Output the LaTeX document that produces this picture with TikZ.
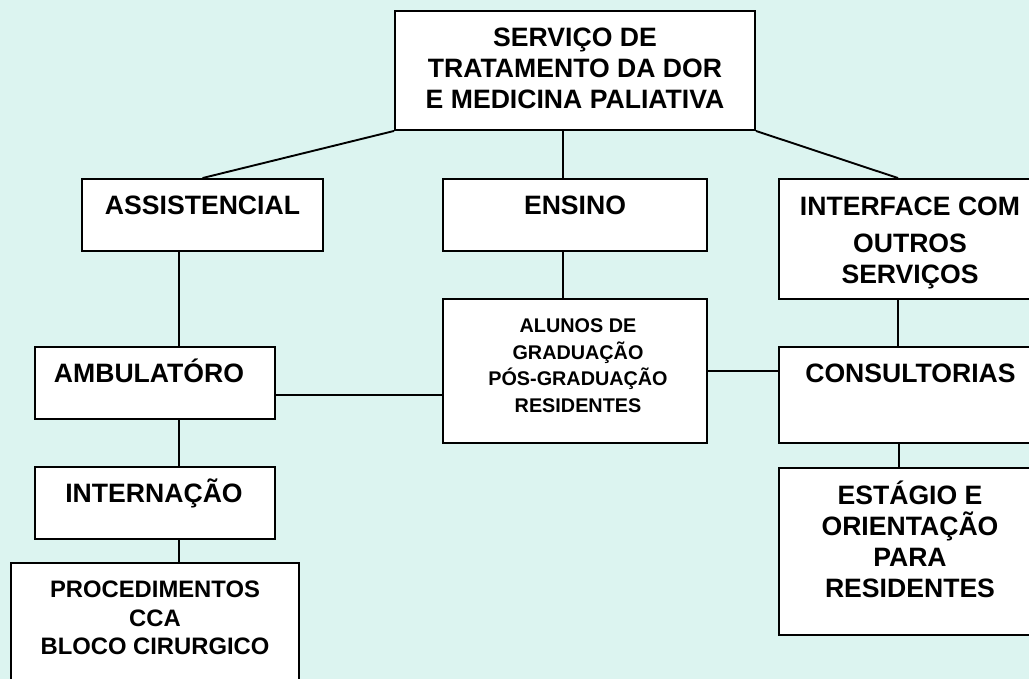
\documentclass[tikz,border=0pt]{standalone}
\usepackage{fontspec}
\setmainfont{Liberation Sans}[BoldFont={Liberation Sans Bold}]
\definecolor{bgc}{RGB}{220,244,240}
\begin{document}
\begin{tikzpicture}[x=1pt,y=-1pt,
  box/.style={draw=black,fill=white,line width=1.9pt,inner sep=0pt,rectangle},
  txt/.style={font=\fontsize{26.6}{31}\selectfont\bfseries,align=center,anchor=base,inner sep=0pt},
  txtsm/.style={font=\fontsize{19.8}{26.5}\selectfont\bfseries,align=center,anchor=base,inner sep=0pt},
  txtmd/.style={font=\fontsize{23.8}{28.5}\selectfont\bfseries,align=center,anchor=base,inner sep=0pt},
  conn/.style={line width=1.9pt}]
\useasboundingbox (0,0) rectangle (1029,679);
\clip (0,0) rectangle (1029,679);
\fill[bgc] (0,0) rectangle (1029,679);
% boxes
\node[box,minimum width=360pt,minimum height=119pt] (top) at (575,70.5) {};
\node[box,minimum width=241pt,minimum height=72pt] (assist) at (202.5,215) {};
\node[box,minimum width=264pt,minimum height=72pt] (ensino) at (575,215) {};
\node[box,minimum width=262pt,minimum height=120pt] (iface) at (910,239) {};
\node[box,minimum width=240pt,minimum height=72pt] (ambul) at (155,383) {};
\node[box,minimum width=264pt,minimum height=144pt] (alunos) at (575,371) {};
\node[box,minimum width=262pt,minimum height=96pt] (consult) at (910,395) {};
\node[box,minimum width=240pt,minimum height=72pt] (intern) at (155,503) {};
\node[box,minimum width=288pt,minimum height=137pt] (proc) at (155,631.5) {};
\node[box,minimum width=262pt,minimum height=167pt] (estagio) at (910,551.5) {};
% connectors
\draw[conn] (top.south west) -- (assist.north);
\draw[conn] (top.south east) -- ([xshift=-12pt]iface.north);
\draw[conn] ([xshift=-12pt]top.south) -- ([xshift=-12pt]ensino.north);
\draw[conn] ([xshift=-12pt]ensino.south) -- ([xshift=-12pt]alunos.north);
\draw[conn] ([xshift=-23.5pt]assist.south) -- ([xshift=24pt]ambul.north);
\draw[conn] ([xshift=24pt]ambul.south) -- ([xshift=24pt]intern.north);
\draw[conn] ([xshift=24pt]intern.south) -- ([xshift=24pt]proc.north);
\draw[conn] ([yshift=-12pt]ambul.east) -- ([yshift=-12pt]ambul.east -| alunos.west);
\draw[conn] (alunos.east) -- (alunos.east -| consult.west);
\draw[conn] ([xshift=-12pt]iface.south) -- ([xshift=-12pt]consult.north);
\draw[conn] ([xshift=-11pt]consult.south) -- ([xshift=-11pt]estagio.north);
% texts (base anchor = baseline of last line)
\node[txt] (ttop) at (575,109) {SERVIÇO DE\\TRATAMENTO DA DOR\\E MEDICINA PALIATIVA};
\node[txt] (tassist) at (202.5,215) {ASSISTENCIAL};
\node[txt] (tensino) at (575,215) {ENSINO};
\node[txt,font=\fontsize{26.6}{32}\selectfont\bfseries] (tiface) at (910,284) {INTERFACE COM\\[5pt]OUTROS\\SERVIÇOS};
\node[txt] (tambul) at (149,382) {AMBULATÓRO};
\node[txtsm] (talunos) at (578,412) {ALUNOS DE\\GRADUAÇÃO\\PÓS-GRADUAÇÃO\\RESIDENTES};
\node[txt] (tconsult) at (910.5,382) {CONSULTORIAS};
\node[txt] (tintern) at (154,502) {INTERNAÇÃO};
\node[txtmd] (tproc) at (155,654.5) {PROCEDIMENTOS\\CCA\\BLOCO CIRURGICO};
\node[txt] (testagio) at (910,597) {ESTÁGIO E\\ORIENTAÇÃO\\PARA\\RESIDENTES};
\end{tikzpicture}
\end{document}
